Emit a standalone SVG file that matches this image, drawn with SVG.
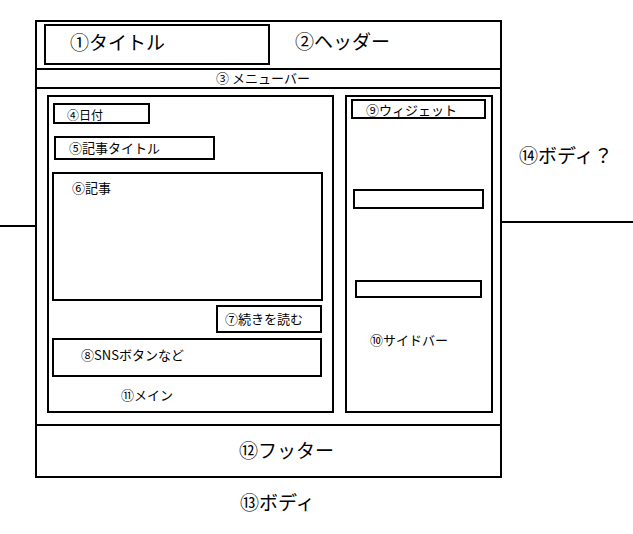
<svg xmlns="http://www.w3.org/2000/svg" width="633" height="534" viewBox="0 0 633 534">
<style>
.b{fill:none;stroke:#000;stroke-width:2}
.t{font-family:"Noto Sans CJK JP","Liberation Sans",sans-serif;fill:#000}
.l{font-size:19px}
.s{font-size:12px}
.m{font-size:13px}
</style>
<rect width="633" height="534" fill="#fff"/>
<g id="connectors">
<line x1="0" y1="226" x2="36" y2="226" stroke="#000" stroke-width="2"/>
<line x1="501" y1="222" x2="633" y2="222" stroke="#000" stroke-width="2"/>
</g>
<g id="body">
<rect class="b" x="36" y="21" width="465" height="456"/>
<text class="t l" x="240" y="510">⑬ボディ</text>
</g>
<g id="body2"><text class="t l" x="519" y="163">⑭ボディ？</text></g>
<g id="header">
<line x1="36" y1="69" x2="501" y2="69" stroke="#000" stroke-width="2"/>
<text class="t l" x="295" y="49">②ヘッダー</text>
</g>
<g id="title">
<rect class="b" x="45" y="25" width="224" height="39"/>
<text class="t l" x="70" y="50">①タイトル</text>
</g>
<g id="menubar">
<line x1="36" y1="88" x2="501" y2="88" stroke="#000" stroke-width="2"/>
<text class="t m" x="263" y="83" text-anchor="middle">③ メニューバー</text>
</g>
<g id="main">
<rect class="b" x="48" y="96" width="285" height="316"/>
<text class="t m" x="121" y="400">⑪メイン</text>
</g>
<g id="date">
<rect class="b" x="54" y="104" width="95" height="19"/>
<text class="t s" x="67" y="120">④日付</text>
</g>
<g id="article-title">
<rect class="b" x="55" y="137" width="159" height="22"/>
<text class="t m" x="69" y="153">⑤記事タイトル</text>
</g>
<g id="article">
<rect class="b" x="53" y="173" width="269" height="127"/>
<text class="t m" x="72" y="193">⑥記事</text>
</g>
<g id="read-more">
<rect class="b" x="217" y="306" width="104" height="26"/>
<text class="t m" x="225" y="324">⑦続きを読む</text>
</g>
<g id="sns">
<rect class="b" x="53" y="339" width="268" height="37"/>
<text class="t m" x="81" y="360">⑧SNSボタンなど</text>
</g>
<g id="sidebar">
<rect class="b" x="346" y="96" width="146" height="316"/>
<text class="t m" x="370" y="345">⑩サイドバー</text>
</g>
<g id="widget">
<rect class="b" x="352" y="100" width="133" height="18"/>
<text class="t m" x="366" y="115">⑨ウィジェット</text>
</g>
<g id="widget2"><rect class="b" x="354" y="190" width="129" height="18"/></g>
<g id="widget3"><rect class="b" x="356" y="281" width="125" height="16"/></g>
<g id="footer">
<line x1="36" y1="425" x2="501" y2="425" stroke="#000" stroke-width="2"/>
<text class="t l" x="239" y="458">⑫フッター</text>
</g>
</svg>
